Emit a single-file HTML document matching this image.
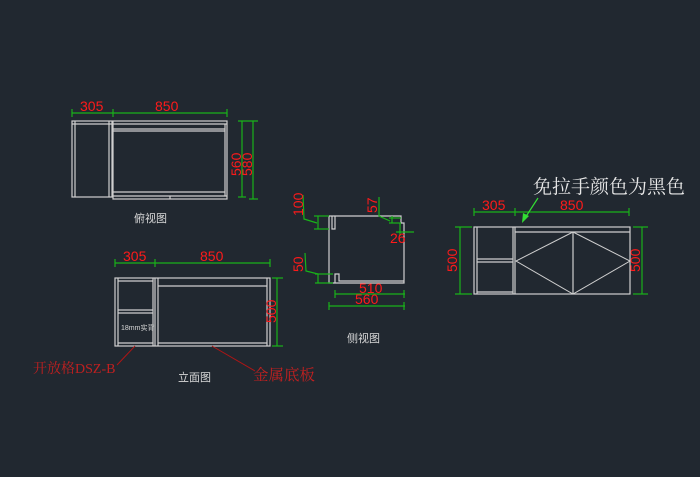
<!DOCTYPE html>
<html><head><meta charset="utf-8"><style>
html,body{margin:0;padding:0;background:#212830;}
svg{display:block}
text{font-family:"Liberation Sans","Noto Sans CJK SC",sans-serif;}
.r{fill:#ff1a1a;font-size:14px}
.w{fill:#d8d8d8}
.s{font-family:"Liberation Serif","Noto Serif CJK SC",serif;}
</style></head><body>
<svg width="700" height="477" viewBox="0 0 700 477">
<rect width="700" height="477" fill="#212830"/>
<g stroke="#cfcfcf" stroke-width="1.2" fill="none">
<rect x="72" y="121" width="40" height="76"/>
<line x1="75" y1="121" x2="75" y2="197"/>
<line x1="72" y1="124" x2="112" y2="124"/>
<line x1="109" y1="121" x2="109" y2="197"/>
<rect x="113" y="121" width="114" height="78"/>
<line x1="113" y1="124" x2="227" y2="124"/>
<line x1="113" y1="129" x2="225" y2="129"/>
<line x1="113" y1="131" x2="225" y2="131"/>
<line x1="113" y1="192" x2="225" y2="192"/>
<line x1="113" y1="196" x2="227" y2="196"/>
<line x1="225" y1="124" x2="225" y2="196"/>
<line x1="170" y1="196" x2="170" y2="199"/>
<rect x="115" y="278" width="155" height="68"/>
<line x1="118" y1="278" x2="118" y2="346"/>
<line x1="153" y1="278" x2="153" y2="346"/>
<line x1="155" y1="278" x2="155" y2="346"/>
<line x1="158" y1="278" x2="158" y2="346"/>
<line x1="267" y1="278" x2="267" y2="346"/>
<line x1="118" y1="281" x2="153" y2="281"/>
<line x1="118" y1="310" x2="153" y2="310"/>
<line x1="118" y1="313" x2="153" y2="313"/>
<line x1="158" y1="286" x2="267" y2="286"/>
<line x1="158" y1="343" x2="267" y2="343"/>
<line x1="118" y1="343" x2="153" y2="343"/>
<polyline points="329,216 401,216 401,223 404,223 404,283 329,283 329,216"/>
<polyline points="332,216 332,229 335,229 335,216"/>
<polyline points="335,283 335,274 339,274 339,281 404,281"/>
<rect x="474" y="227" width="156" height="67"/>
<line x1="477" y1="227" x2="477" y2="294"/>
<line x1="513" y1="227" x2="513" y2="294"/>
<line x1="515" y1="227" x2="515" y2="294"/>
<line x1="477" y1="259" x2="513" y2="259"/>
<line x1="477" y1="262" x2="513" y2="262"/>
<line x1="477" y1="292" x2="513" y2="292"/>
<line x1="515" y1="232" x2="630" y2="232"/>
<line x1="573" y1="232" x2="573" y2="294"/>
<polyline points="573,232 516,261 573,294 630,261 573,232" stroke-width="1"/>
</g>
<g stroke="#19b219" stroke-width="1.2" fill="none">
<line x1="72" y1="113" x2="227" y2="113"/>
<line x1="72" y1="109" x2="72" y2="117"/><line x1="113" y1="109" x2="113" y2="117"/><line x1="227" y1="109" x2="227" y2="117"/>
<line x1="242" y1="121" x2="242" y2="197"/><line x1="238" y1="121" x2="258" y2="121"/><line x1="238" y1="197" x2="246" y2="197"/>
<line x1="253" y1="121" x2="253" y2="199"/><line x1="249" y1="199" x2="258" y2="199"/>
<line x1="115" y1="263" x2="270" y2="263"/>
<line x1="115" y1="259" x2="115" y2="267"/><line x1="155" y1="259" x2="155" y2="267"/><line x1="270" y1="259" x2="270" y2="267"/>
<line x1="277" y1="278" x2="277" y2="346"/><line x1="272" y1="278" x2="283" y2="278"/><line x1="272" y1="346" x2="283" y2="346"/>
<line x1="335" y1="294" x2="405" y2="294"/><line x1="335" y1="290" x2="335" y2="298"/><line x1="404" y1="290" x2="404" y2="298"/>
<line x1="329" y1="306" x2="405" y2="306"/><line x1="329" y1="302" x2="329" y2="310"/><line x1="404" y1="302" x2="404" y2="310"/>
<polyline points="303,195 304,219 317,223"/>
<line x1="314" y1="216" x2="329" y2="216"/><line x1="314" y1="229" x2="329" y2="229"/><line x1="318" y1="216" x2="318" y2="229"/>
<polyline points="305,253 306,271 318,274"/>
<line x1="315" y1="274" x2="333" y2="274"/><line x1="315" y1="283" x2="333" y2="283"/><line x1="318" y1="274" x2="318" y2="283"/>
<polyline points="379,197 379,216 390,221"/>
<line x1="389" y1="218" x2="401" y2="218"/><line x1="389" y1="223" x2="401" y2="223"/><line x1="392" y1="216" x2="392" y2="223"/>
<line x1="400" y1="223" x2="400" y2="236"/><line x1="396" y1="232" x2="414" y2="232"/>
<line x1="474" y1="212" x2="629" y2="212"/>
<line x1="474" y1="208" x2="474" y2="216"/><line x1="515" y1="208" x2="515" y2="216"/><line x1="629" y1="208" x2="629" y2="216"/>
<line x1="460" y1="227" x2="460" y2="294"/><line x1="455" y1="227" x2="472" y2="227"/><line x1="455" y1="294" x2="472" y2="294"/>
<line x1="642" y1="227" x2="642" y2="294"/><line x1="633" y1="227" x2="648" y2="227"/><line x1="633" y1="294" x2="648" y2="294"/>
<line x1="538" y1="198" x2="525" y2="218" stroke="#33dd33"/>
</g>
<polygon points="522,223 523,213 529,216" fill="#33dd33"/>
<g stroke="#b01515" stroke-width="1" fill="none">
<polyline points="135,346 117,365"/>
<polyline points="212,346 255,371"/>
</g>
<text x="80" y="111" class="r">305</text>
<text x="155" y="111" class="r">850</text>
<text class="r" transform="translate(241,176) rotate(-90)">560</text>
<text class="r" transform="translate(252,176) rotate(-90)">580</text>
<text x="134" y="222" class="w" font-size="11">俯视图</text>
<text x="123" y="261" class="r">305</text>
<text x="200" y="261" class="r">850</text>
<text class="r" transform="translate(276,323) rotate(-90)">500</text>
<text x="121" y="330" class="w" font-size="7">18mm实背</text>
<text x="33" y="373" fill="#c02020" font-size="14" class="s">开放格DSZ-B</text>
<text x="253" y="380" fill="#c02020" font-size="15.5" class="s">金属底板</text>
<text x="178" y="381" class="w" font-size="11">立面图</text>
<text class="r" transform="translate(303,216) rotate(-90)">100</text>
<text class="r" transform="translate(303,272) rotate(-90)">50</text>
<text class="r" transform="translate(377,213) rotate(-90)">57</text>
<text x="390" y="243" class="r">26</text>
<text x="359" y="293" class="r">510</text>
<text x="355" y="304" class="r">560</text>
<text x="347" y="342" class="w" font-size="11">侧视图</text>
<text x="482" y="210" class="r">305</text>
<text x="560" y="210" class="r">850</text>
<text class="r" transform="translate(457,272) rotate(-90)">500</text>
<text class="r" transform="translate(640,272) rotate(-90)">500</text>
<text x="533" y="193" fill="#e8e8e8" font-size="19" class="s">免拉手颜色为黑色</text>
</svg>
</body></html>
